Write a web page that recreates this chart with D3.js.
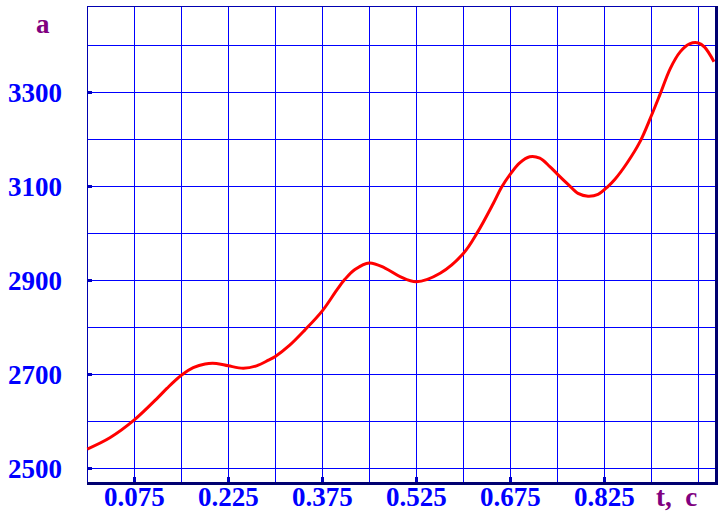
<!DOCTYPE html>
<html>
<head>
<meta charset="utf-8">
<script src="https://cdn.jsdelivr.net/npm/d3@7"></script>
<style>
  html, body { margin: 0; padding: 0; background: #fff; }
  svg { display: block; }
</style>
</head>
<body>
<svg id="chart" width="723" height="513"></svg>
<script>
// Data
const tValues = [0.0, 0.036, 0.075, 0.113, 0.127, 0.150, 0.169, 0.188, 0.206, 0.225, 0.249, 0.270, 0.289, 0.300, 0.323, 0.347, 0.375, 0.398, 0.411, 0.427, 0.450, 0.475, 0.499, 0.525, 0.563, 0.600, 0.623, 0.648, 0.661, 0.675, 0.690, 0.706, 0.722, 0.738, 0.750, 0.768, 0.783, 0.799, 0.815, 0.831, 0.842, 0.861, 0.882, 0.900, 0.914, 0.930, 0.946, 0.961, 0.975, 0.985, 1.0];
const aValues = [2541, 2565, 2603, 2651, 2670, 2698, 2714, 2722, 2723, 2718, 2713, 2718, 2730, 2738, 2762, 2794, 2835, 2879, 2902, 2923, 2937, 2926, 2908, 2897, 2915, 2957, 3003, 3064, 3098, 3126, 3150, 3163, 3160, 3142, 3126, 3103, 3085, 3079, 3083, 3100, 3115, 3149, 3195, 3250, 3296, 3350, 3386, 3403, 3405, 3396, 3365];
const xGrid = [0.075, 0.15, 0.225, 0.3, 0.375, 0.45, 0.525, 0.6, 0.675, 0.75, 0.825, 0.9, 0.975];
const xTickLabels = ["0.075", "0.225", "0.375", "0.525", "0.675", "0.825"];
const yGrid = [2500, 2600, 2700, 2800, 2900, 3000, 3100, 3200, 3300, 3400];
const yTickLabels = ["2500", "2700", "2900", "3100", "3300"];
const xTitle = "t,  c";
const yTitle = "a";

(function () {
const pL = 87.3, pR = 715, pT = 6, pB = 482;
const x = d3.scaleLinear().domain([0, 1.0]).range([pL, pL + 626.7]);
const y = d3.scaleLinear().domain([2470.8, 3483.6]).range([pB, pT]);

const svg = d3.select("#chart");
const font = "'Liberation Serif', 'Times New Roman', serif";

// grid
svg.append("g").selectAll("line").data(xGrid).join("line")
  .attr("x1", d => Math.round(x(d)) + 0.5).attr("x2", d => Math.round(x(d)) + 0.5)
  .attr("y1", pT).attr("y2", pB)
  .attr("stroke", "#0000ff").attr("stroke-width", 1);
svg.append("g").selectAll("line").data(yGrid).join("line")
  .attr("y1", d => Math.round(y(d)) + 0.5).attr("y2", d => Math.round(y(d)) + 0.5)
  .attr("x1", pL).attr("x2", pR)
  .attr("stroke", "#0000ff").attr("stroke-width", 1);

// frame
svg.append("line").attr("x1", 87.5).attr("x2", 87.5).attr("y1", pT).attr("y2", pB)
  .attr("stroke", "#0000b0").attr("stroke-width", 1);
svg.append("line").attr("x1", 87).attr("x2", pR).attr("y1", 6.5).attr("y2", 6.5)
  .attr("stroke", "#0000b0").attr("stroke-width", 1);

// curve
const line = d3.line().x((d, i) => x(tValues[i])).y(d => y(d)).curve(d3.curveCatmullRom.alpha(0.5));
svg.append("path").datum(aValues)
  .attr("d", line).attr("fill", "none")
  .attr("stroke", "#ff0000").attr("stroke-width", 3).attr("stroke-linejoin", "round");

svg.append("rect").attr("x", pR).attr("y", pT).attr("width", 3).attr("height", pB - pT + 3)
  .attr("fill", "#000070");
svg.append("rect").attr("x", 87).attr("y", pB).attr("width", pR - 87 + 3).attr("height", 3)
  .attr("fill", "#000070");

// tick marks
svg.append("g").selectAll("rect").data(yTickLabels).join("rect")
  .attr("x", 88).attr("y", d => Math.round(y(+d)) - 1).attr("width", 4).attr("height", 3)
  .attr("fill", "#0000c0");
svg.append("g").selectAll("rect").data(xTickLabels).join("rect")
  .attr("x", d => Math.round(x(+d)) - 1).attr("y", pB - 5).attr("width", 3).attr("height", 5)
  .attr("fill", "#0000c0");

// labels
svg.append("g").selectAll("text").data(yTickLabels).join("text")
  .attr("x", 62).attr("y", d => y(+d) + 9.5)
  .attr("text-anchor", "end")
  .attr("font-family", font).attr("font-weight", "bold").attr("font-size", 27)
  .attr("fill", "#0000ff").text(d => d);
svg.append("g").selectAll("text").data(xTickLabels).join("text")
  .attr("x", d => x(+d)).attr("y", 506)
  .attr("text-anchor", "middle")
  .attr("font-family", font).attr("font-weight", "bold").attr("font-size", 27)
  .attr("fill", "#0000ff").text(d => d);
svg.append("text").attr("x", 656).attr("y", 506)
  .attr("font-family", font).attr("font-weight", "bold").attr("font-size", 27)
  .attr("fill", "#800080").attr("xml:space", "preserve").style("white-space", "pre").text(xTitle);
svg.append("text").attr("x", 36).attr("y", 33)
  .attr("font-family", font).attr("font-weight", "bold").attr("font-size", 27)
  .attr("fill", "#800080").text(yTitle);
})();
</script>
</body>
</html>
